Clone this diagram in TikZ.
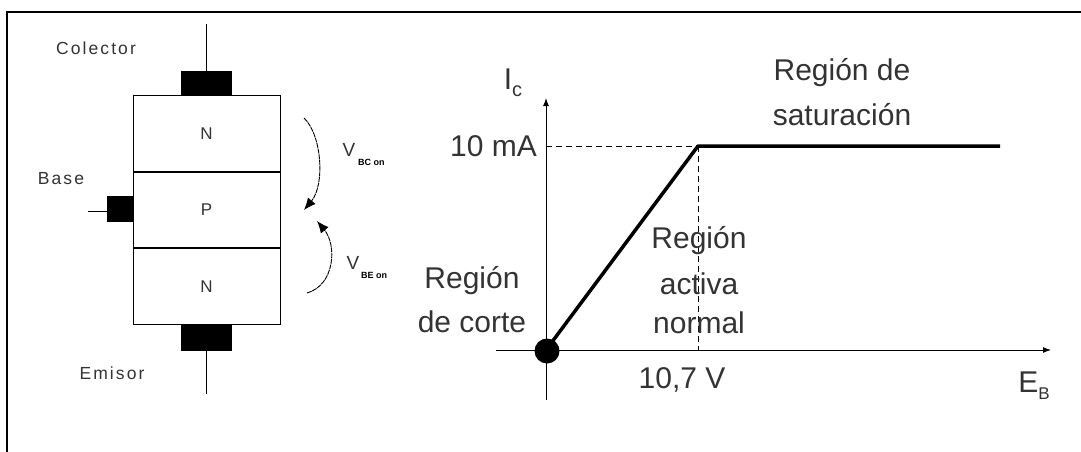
\documentclass[tikz,border=0pt]{standalone}
\usepackage{fontspec}
\setmainfont{Liberation Sans}
\newfontfamily\widefont[LetterSpace=12]{Liberation Sans}
\usetikzlibrary{calc,arrows.meta}
\definecolor{txtgray}{HTML}{333333}
\begin{document}
\begin{tikzpicture}[x=1pt, y=-1pt,
        lbl/.style={font=\fontsize{17.5}{17.5}\widefont, text=txtgray, inner sep=0pt},
        big/.style={font=\fontsize{30}{30}\selectfont, text=txtgray, inner sep=0pt},
        sub/.style={font=\fontsize{19}{19}\selectfont, text=txtgray, inner sep=0pt},
        tiny/.style={font=\fontsize{9}{9}\bfseries\selectfont, text=black, inner sep=0pt},
        layer/.style={draw=black, line width=1pt, minimum width=147pt, minimum height=75.5pt,
          inner sep=0pt, font=\fontsize{17}{17}\selectfont, text=txtgray},
        pad/.style={fill=black, inner sep=0pt},
        wire/.style={draw=black, line width=1pt},
        guide/.style={draw=black, line width=0.8pt, dash pattern=on 6pt off 4pt},
        volt/.style={draw=black, line width=0.9pt, dash pattern=on 5pt off 0.7pt,
          -{Latex[length=12pt, width=10pt, sep=0pt]}}]
      \useasboundingbox (0,0) rectangle (1081,452);
      % frame, open at the bottom and on the right
      \draw[draw=black, line width=2pt] (7,452) -- (7,12) -- (1081,12);

      % transistor layers
      \node[layer] (colN) at (206.5,133.5) {N};
      \node[layer, anchor=north] (baseP) at (colN.south) {P};
      \node[layer, anchor=north] (emiN) at (baseP.south) {N};
      \node[pad, minimum width=51pt, minimum height=24pt, anchor=south] (colPad) at (colN.north) {};
      \node[pad, minimum width=51pt, minimum height=26pt, anchor=north] (emiPad) at (emiN.south) {};
      \node[pad, minimum width=26pt, minimum height=26pt, anchor=east] (basePad) at (133,209) {};
      \coordinate (colEnd) at (206,24);
      \coordinate (emiEnd) at (206,394);
      \coordinate (baseEnd) at (88,211);
      \draw[wire] (colEnd) -- (colEnd |- colPad.north);
      \draw[wire] (emiEnd) -- (emiEnd |- emiPad.south);
      \draw[wire] (baseEnd) -- (baseEnd -| basePad.west);
      \node[lbl] (colLbl) at (96,48) {Colector};
      \node[lbl] (baseLbl) at (61,179) {Base};
      \node[lbl] (emiLbl) at (112,373) {Emisor};

      % junction voltages
      \coordinate (bcTop) at (304,118);
      \coordinate (bcTip) at (304,210);
      \coordinate (beBot) at (307,293);
      \coordinate (beTip) at (317,221);
      \draw[volt] (bcTop) .. controls (322,135) and (325,185) .. (bcTip);
      \draw[volt] (beBot) .. controls (335,285) and (337,245) .. (beTip);
      \node[sub] (vbc) at (349,150) {V};
      \node[sub] (vbe) at (353,263) {V};
      \node[tiny, anchor=west] (vbcSub) at (358,162) {BC on};
      \node[tiny, anchor=west] (vbeSub) at (361,275) {BE on};

      % characteristic
      \coordinate (orig) at (546,350);
      \coordinate (knee) at (698,146);
      \coordinate (satEnd) at (1000,146);
      \draw[wire, -{Latex[length=8pt, width=6pt]}] (546,400) -- (546,98);
      \draw[wire, -{Latex[length=8pt, width=6pt]}] (496,350) -- (1051,350);
      \draw[guide] (orig |- knee) -- (knee);
      \draw[guide] (knee) -- (knee |- orig);
      \draw[draw=black, line width=3.5pt, line join=round] (orig) -- (knee) -- (satEnd);
      \node[circle, fill=black, inner sep=0pt, minimum size=25pt] (dot) at (547,351) {};

      \node[big, anchor=east] (imax) at (537,146) {10 mA};
      \node[big] (vmax) at (682,380) {10,7 V};
      \node[big] (ic) at (513,83) {I\raisebox{-7pt}{\fontsize{20}{20}\selectfont c}};
      \node[big] (eb) at (1034,386) {E\raisebox{-7pt}{\fontsize{17}{17}\selectfont B}};
      \node[big] (sat1) at (842,73) {Región de};
      \node[big] (sat2) at (842,115) {saturación};
      \node[big] (act1) at (699,241) {Región};
      \node[big] (act2) at (699,284) {activa};
      \node[big] (act3) at (699,323) {normal};
      \node[big] (cut1) at (472,281) {Región};
      \node[big] (cut2) at (472,322) {de corte};
    \end{tikzpicture}
\end{document}
